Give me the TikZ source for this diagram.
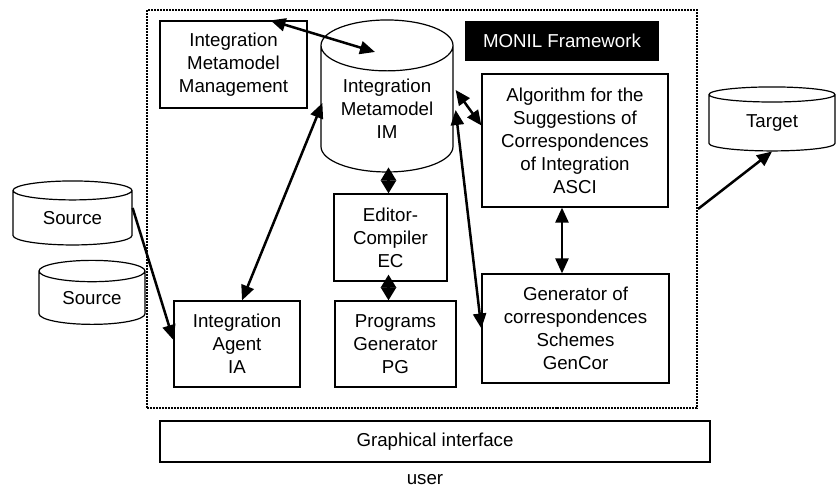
\documentclass[tikz,border=0pt]{standalone}
\usepackage{fontspec}
\setmainfont{Liberation Sans}
\usetikzlibrary{%
	calc,%
	arrows.meta,%
	shapes.geometric
}

\begin{document}
\begin{tikzpicture}
		[x=1bp,y=-1bp,
		every node/.style={font=\fontsize{18.7bp}{23bp}\selectfont,align=center},
		box/.style={draw,line width=1.2bp,inner sep=0pt},
		cyl/.style={draw,line width=1.2bp,cylinder,shape border rotate=90,inner sep=0pt},
		link/.style={line width=2.5bp,{Triangle[length=15bp,width=13bp]}-{Triangle[length=15bp,width=13bp]}},
		onelink/.style={line width=2.5bp,-{Triangle[length=15bp,width=13bp]}},
		diam/.style={line width=2.5bp,{Triangle[length=13bp,width=15bp]}-{Triangle[length=13bp,width=15bp]}}
		]
		\useasboundingbox (0,0) rectangle (836,491);
		
		% framework
		\node[draw,densely dotted,line width=2bp,minimum width=550bp,minimum height=398bp] (frame) at (422,209) {};
		\node[fill=black,text=white,minimum width=194bp,minimum height=40bp,inner sep=0pt] (monil) at (562,41) {MONIL Framework};
		
		\node[box,minimum width=147bp,minimum height=87bp] (imm) at (233.5,64.5) {Integration\\Metamodel\\Management};
		\node[cyl,minimum width=132bp,minimum height=152bp,aspect=0.55] (im) at (387,109) {Integration\\Metamodel\\IM};
		\node[box,minimum width=186bp,minimum height=133bp] (asci) at (575,140.5) {Algorithm for the\\Suggestions of\\Correspondences\\of Integration\\ASCI};
		\node[box,minimum width=113bp,minimum height=87bp] (ec) at (390.5,237.5) {Editor-\\Compiler\\EC};
		\node[box,minimum width=126bp,minimum height=86bp] (ia) at (237,344) {Integration\\Agent\\IA};
		\node[box,minimum width=121bp,minimum height=86bp] (pg) at (395.5,344) {Programs\\Generator\\PG};
		\node[box,minimum width=187bp,minimum height=109bp] (gencor) at (575.5,328.5) {Generator of\\correspondences\\Schemes\\GenCor};
		
		% outside
		\node[cyl,minimum width=119bp,minimum height=64bp,aspect=0.32] (srca) at (72.5,218) {Source};
		\node[cyl,minimum width=106bp,minimum height=64bp,aspect=0.36] (srcb) at (92,298) {Source};
		\node[cyl,minimum width=126bp,minimum height=64bp,aspect=0.29] (target) at (772,123) {Target};
		\node[box,minimum width=550bp,minimum height=41bp] (gui) at (435,441.5) {Graphical interface};
		\node (user) at (425,480) {user};
		
		% connections
		\draw[link] ($(imm.north)+(37,0)$) -- ($(im.center)+(-12,-57)$);
		\draw[link] ($(ia.north)+(5,0)$) -- ($(im.west)+(2,-6)$);
		\draw[link] ($(im.east)+(2,-19)$) -- ($(asci.west)+(0,-15)$);
		\draw[link] ($(im.east)+(2,1)$) -- (gencor.west);
		\draw[link] ($(asci.south)+(-13,0)$) -- ($(gencor.north)+(-13.5,0)$);
		\draw[diam] ($(ec.north)+(-2,-26)$) -- ($(ec.north)+(-2,0)$);
		\draw[diam] ($(ec.south)+(-2,-7)$) -- ($(ec.south |- pg.north)+(-2,0)$);
		\draw[onelink] ($(srca.east)+(0,-10)$) -- ($(ia.west)+(0,-4)$);
		\draw[onelink] (frame.east) -- (target.south);
	\end{tikzpicture}
\end{document}
